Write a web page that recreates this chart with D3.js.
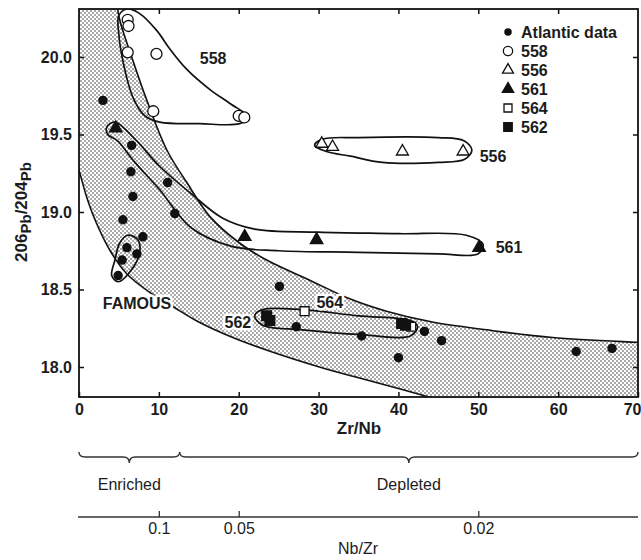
<!DOCTYPE html>
<html>
<head>
<meta charset="utf-8">
<style>
  body { margin: 0; background: #fff; }
  text { font-family: "Liberation Sans", Arial, sans-serif; fill: #1c1c1c; }
</style>
</head>
<body>
<svg id="chart" width="641" height="560"></svg>
<script src="https://cdn.jsdelivr.net/npm/d3@7/dist/d3.min.js"></script>
<script>
// points as [Zr/Nb, 206Pb/204Pb]
const atlantic = [
  [3.0, 19.72], [6.6, 19.43], [6.5, 19.26], [11.1, 19.19], [6.75, 19.10],
  [12.0, 18.99], [5.5, 18.95], [8.0, 18.84], [6.0, 18.77], [7.25, 18.73],
  [5.4, 18.69], [4.9, 18.59], [25.1, 18.52], [27.2, 18.26], [35.4, 18.20],
  [40.0, 18.06], [43.25, 18.23], [45.4, 18.17], [62.25, 18.10], [66.75, 18.12]
]
const site558 = [[6.1, 20.24], [6.2, 20.20], [6.1, 20.03], [9.7, 20.02], [9.3, 19.65], [20.0, 19.62], [20.7, 19.61]]
const site556 = [[30.4, 19.44], [31.75, 19.42], [40.5, 19.39], [48.1, 19.39]]
const site561 = [[4.6, 19.54], [20.75, 18.84], [29.75, 18.82], [50.1, 18.77]]
const site564 = [[28.25, 18.36], [41.6, 18.26]]
const site562 = [[23.5, 18.33], [23.9, 18.30], [40.4, 18.28], [40.9, 18.27]]

// outlines drawn round each group
const env558 = [[6.1, 20.31], [7.6, 20.28], [9.75, 20.17], [11.4, 20.05], [13.5, 19.92], [16.4, 19.79],
  [18.9, 19.70], [21.25, 19.61], [20.1, 19.57], [15.1, 19.57], [10.1, 19.58], [8.25, 19.62],
  [6.75, 19.74], [5.6, 19.95], [5.0, 20.14], [5.0, 20.27]]
const env556 = [[29.5, 19.43], [30.5, 19.47], [35, 19.48], [45, 19.48], [48.2, 19.46], [49.2, 19.40],
  [48.3, 19.34], [45, 19.32], [38, 19.32], [34, 19.36], [31, 19.39]]
const env561 = [[3.5, 19.55], [4.5, 19.58], [7.2, 19.46], [10, 19.30], [14, 19.12], [18, 18.96],
  [22, 18.89], [30, 18.87], [40, 18.86], [48.5, 18.85], [50.6, 18.79], [50, 18.73], [45, 18.73],
  [35, 18.74], [25, 18.75], [19, 18.78], [14, 18.90], [10, 19.15], [7, 19.32], [4.8, 19.46], [3.6, 19.50]]
const env562 = [[22.0, 18.33], [23, 18.37], [28, 18.37], [35, 18.33], [41.5, 18.30], [42.4, 18.26],
  [41.5, 18.20], [35, 18.21], [28, 18.24], [23, 18.27]]
const envFamous = [[4.1, 18.59], [4.9, 18.55], [6.75, 18.64], [7.6, 18.74], [7.4, 18.82], [6.1, 18.85],
  [5.1, 18.80], [4.5, 18.69]]

// shaded field of Atlantic data
const bandUpper = [[4.6, 20.4], [5.1, 20.24], [6.6, 20.0], [8.5, 19.72], [11, 19.4], [13.5, 19.19],
  [16.4, 18.97], [20.1, 18.8], [23.5, 18.69], [28.9, 18.56], [33.9, 18.44], [38.5, 18.36],
  [44.25, 18.29], [51, 18.24], [59.3, 18.19], [69.75, 18.16], [72, 18.155]]
const bandLower = [[-1, 19.45], [0, 19.27], [1, 19.09], [2, 18.95], [3.9, 18.75], [6, 18.6],
  [8.9, 18.48], [11.75, 18.39], [15, 18.29], [19.25, 18.19], [24, 18.1], [30.1, 18.0],
  [35, 17.93], [40.1, 17.86], [44.25, 17.8], [47, 17.76]]

const xTicks = [0, 10, 20, 30, 40, 50, 60, 70]
const yTicks = [18.0, 18.5, 19.0, 19.5, 20.0]
const nbTicks = [0.1, 0.05, 0.02]
const legendLabels = ["Atlantic data", "558", "556", "561", "564", "562"]
const enrichedSplit = 12.6   // Zr/Nb where "Enriched" gives way to "Depleted"

let svg = d3.select("#chart")

let x = d3.scaleLinear().domain([0, 70]).range([79, 638])
let y = d3.scaleLinear().domain([18, 20]).range([367, 57])
let plotTop = 9, plotBottom = 397

let defs = svg.append("defs")
let pat = defs.append("pattern").attr("id", "stipple")
  .attr("width", 4).attr("height", 4).attr("patternUnits", "userSpaceOnUse")
pat.append("rect").attr("width", 4).attr("height", 4).attr("fill", "#fff")
pat.append("circle").attr("cx", 1).attr("cy", 1).attr("r", 0.8).attr("fill", "#3a3a3a")
pat.append("circle").attr("cx", 3).attr("cy", 3).attr("r", 0.8).attr("fill", "#3a3a3a")

defs.append("clipPath").attr("id", "plot")
  .append("rect").attr("x", x(0)).attr("y", plotTop)
  .attr("width", x(70) - x(0)).attr("height", plotBottom - plotTop)

let plot = svg.append("g").attr("clip-path", "url(#plot)")

// band: upper edge, round the right/bottom corner, lower edge back, round the top-left corner
let edge = d3.line().x(d => x(d[0])).y(d => y(d[1])).curve(d3.curveCatmullRom.alpha(0.5))
let upperD = edge(bandUpper)
let lowerBackD = edge(bandLower.slice().reverse()).replace(/^M/, "L")
let bandD = upperD +
  "L" + x(72) + "," + y(17.5) +
  lowerBackD +
  "L" + x(-1) + "," + y(20.5) + "Z"
plot.append("path").attr("d", bandD).attr("fill", "url(#stipple)").attr("stroke", "none")
plot.append("path").attr("d", upperD).attr("fill", "none").attr("stroke", "#111").attr("stroke-width", 1.6)
plot.append("path").attr("d", edge(bandLower)).attr("fill", "none").attr("stroke", "#111").attr("stroke-width", 1.6)

// group outlines
let loop = d3.line().x(d => x(d[0])).y(d => y(d[1])).curve(d3.curveCatmullRomClosed.alpha(0.5))
for (let env of [env558, env556, env561, env562, envFamous]) {
  plot.append("path").attr("d", loop(env))
    .attr("fill", "none").attr("stroke", "#111").attr("stroke-width", 1.7)
}

// symbols
let sym = (type, size) => d3.symbol().type(type).size(size)()
let series = [
  { data: atlantic, path: sym(d3.symbolCircle, 52), fill: "#111" },
  { data: site558, path: sym(d3.symbolCircle, 95), fill: "#fff" },
  { data: site556, path: sym(d3.symbolTriangle, 62), fill: "#fff" },
  { data: site561, path: sym(d3.symbolTriangle, 68), fill: "#111" },
  { data: site564, path: sym(d3.symbolSquare, 80), fill: "#fff" },
  { data: site562, path: sym(d3.symbolSquare, 95), fill: "#111" }
]
for (let s of series) {
  plot.selectAll(null).data(s.data).enter().append("path")
    .attr("d", s.path)
    .attr("transform", d => "translate(" + x(d[0]) + "," + y(d[1]) + ")")
    .attr("fill", s.fill).attr("stroke", "#111").attr("stroke-width", 1.3)
}

// frame and inward ticks
svg.append("rect").attr("x", x(0)).attr("y", plotTop)
  .attr("width", x(70) - x(0)).attr("height", plotBottom - plotTop)
  .attr("fill", "none").attr("stroke", "#111").attr("stroke-width", 1.8)

let tickStyle = g => {
  g.select(".domain").remove()
  g.selectAll("line").attr("stroke", "#111").attr("stroke-width", 1.5)
  g.selectAll("text").attr("font-size", 16).attr("font-weight", "bold")
    .attr("font-family", "Liberation Sans, Arial, sans-serif").attr("fill", "#1c1c1c")
}
svg.append("g").attr("transform", "translate(0," + plotBottom + ")")
  .call(d3.axisBottom(x).tickValues(xTicks).tickSize(-5).tickPadding(7).tickFormat(d3.format("d")))
  .call(tickStyle)
  .call(g => g.selectAll(".tick text").filter(d => d === 70).attr("text-anchor", "end").attr("dx", 3))
svg.append("g").attr("transform", "translate(0," + plotTop + ")")
  .call(d3.axisTop(x).tickValues(xTicks.slice(1, -1)).tickSize(-5).tickFormat(""))
  .call(tickStyle)
svg.append("g").attr("transform", "translate(" + x(0) + ",0)")
  .call(d3.axisLeft(y).tickValues(yTicks).tickSize(-5).tickPadding(7).tickFormat(d3.format(".1f")))
  .call(tickStyle)
svg.append("g").attr("transform", "translate(" + x(70) + ",0)")
  .call(d3.axisRight(y).tickValues(yTicks).tickSize(-5).tickFormat(""))
  .call(tickStyle)

svg.append("text").attr("x", 359).attr("y", 428).attr("dy", "0.35em")
  .attr("text-anchor", "middle").attr("font-size", 17).attr("font-weight", "bold").text("Zr/Nb")

let yt = svg.append("text").attr("transform", "translate(27,212) rotate(-90)")
  .attr("text-anchor", "middle").attr("font-size", 17).attr("font-weight", "bold")
yt.append("tspan").text("206")
yt.append("tspan").attr("font-size", 15).attr("dy", 4).text("Pb")
yt.append("tspan").attr("dy", -4).text("/204")
yt.append("tspan").attr("font-size", 15).attr("dy", 4).text("Pb")

// group labels; those sitting on the shaded field get a white knock-out
let label = (t, px, py, halo) => svg.append("text").attr("x", x(px)).attr("y", y(py)).attr("dy", "0.35em")
  .attr("text-anchor", "middle").attr("font-size", 16).attr("font-weight", "bold")
  .attr("stroke", halo ? "#fff" : "none").attr("stroke-width", halo ? 5 : 0)
  .attr("stroke-linejoin", "round").attr("paint-order", "stroke").text(t)
label("558", 16.8, 19.99)
label("556", 51.85, 19.36)
label("561", 53.85, 18.77)
label("564", 31.4, 18.42, true)
label("562", 19.9, 18.29, true)
label("FAMOUS", 7.26, 18.41, true)

// legend
let legendSmall = [
  sym(d3.symbolCircle, 30), sym(d3.symbolCircle, 68), sym(d3.symbolTriangle, 52),
  sym(d3.symbolTriangle, 56), sym(d3.symbolSquare, 64), sym(d3.symbolSquare, 72)
]
let legend = svg.append("g").selectAll("g").data(legendLabels).enter().append("g")
  .attr("transform", (d, i) => "translate(508," + (32 + i * 19) + ")")
legend.append("path").attr("d", (d, i) => legendSmall[i])
  .attr("fill", (d, i) => series[i].fill).attr("stroke", "#111").attr("stroke-width", 1.3)
legend.append("text").attr("x", 13).attr("dy", "0.36em")
  .attr("font-size", 16).attr("font-weight", "bold").text(d => d)

// enriched / depleted braces
let braceY = 457
let brace = (a, b) => {
  let x1 = x(a), x2 = x(b), xm = (x1 + x2) / 2
  return "M" + x1 + "," + (braceY - 5) +
    "Q" + x1 + "," + braceY + " " + (x1 + 6) + "," + braceY +
    "L" + (xm - 6) + "," + braceY +
    "Q" + xm + "," + braceY + " " + xm + "," + (braceY + 6) +
    "Q" + xm + "," + braceY + " " + (xm + 6) + "," + braceY +
    "L" + (x2 - 6) + "," + braceY +
    "Q" + x2 + "," + braceY + " " + x2 + "," + (braceY - 5)
}
svg.append("path").attr("d", brace(0, enrichedSplit)).attr("fill", "none").attr("stroke", "#333").attr("stroke-width", 1.4)
svg.append("path").attr("d", brace(enrichedSplit, 70)).attr("fill", "none").attr("stroke", "#333").attr("stroke-width", 1.4)
svg.append("text").attr("x", (x(0) + x(enrichedSplit)) / 2).attr("y", 484).attr("dy", "0.35em")
  .attr("text-anchor", "middle").attr("font-size", 16).attr("fill", "#333").text("Enriched")
svg.append("text").attr("x", (x(enrichedSplit) + x(70)) / 2).attr("y", 484).attr("dy", "0.35em")
  .attr("text-anchor", "middle").attr("font-size", 16).attr("fill", "#333").text("Depleted")

// Nb/Zr scale: position follows 1/(Nb/Zr) on the Zr/Nb axis
let nb = d3.scalePow().exponent(-1).domain([0.1, 0.02]).range([x(10), x(50)])
let nbAxisY = 517
svg.append("line").attr("x1", x(0) - 1).attr("x2", x(70)).attr("y1", nbAxisY).attr("y2", nbAxisY)
  .attr("stroke", "#333").attr("stroke-width", 1.5)
svg.append("g").attr("transform", "translate(0," + nbAxisY + ")")
  .call(d3.axisBottom(nb).tickValues(nbTicks).tickSize(-6).tickPadding(6).tickFormat(d => String(d)))
  .call(g => {
    g.select(".domain").remove()
    g.selectAll("line").attr("stroke", "#333").attr("stroke-width", 1.3)
    g.selectAll("text").attr("font-size", 16).attr("fill", "#333")
      .attr("font-family", "Liberation Sans, Arial, sans-serif")
  })
svg.append("text").attr("x", 358).attr("y", 548).attr("dy", "0.35em")
  .attr("text-anchor", "middle").attr("font-size", 16).attr("fill", "#333").text("Nb/Zr")
</script>
</body>
</html>
